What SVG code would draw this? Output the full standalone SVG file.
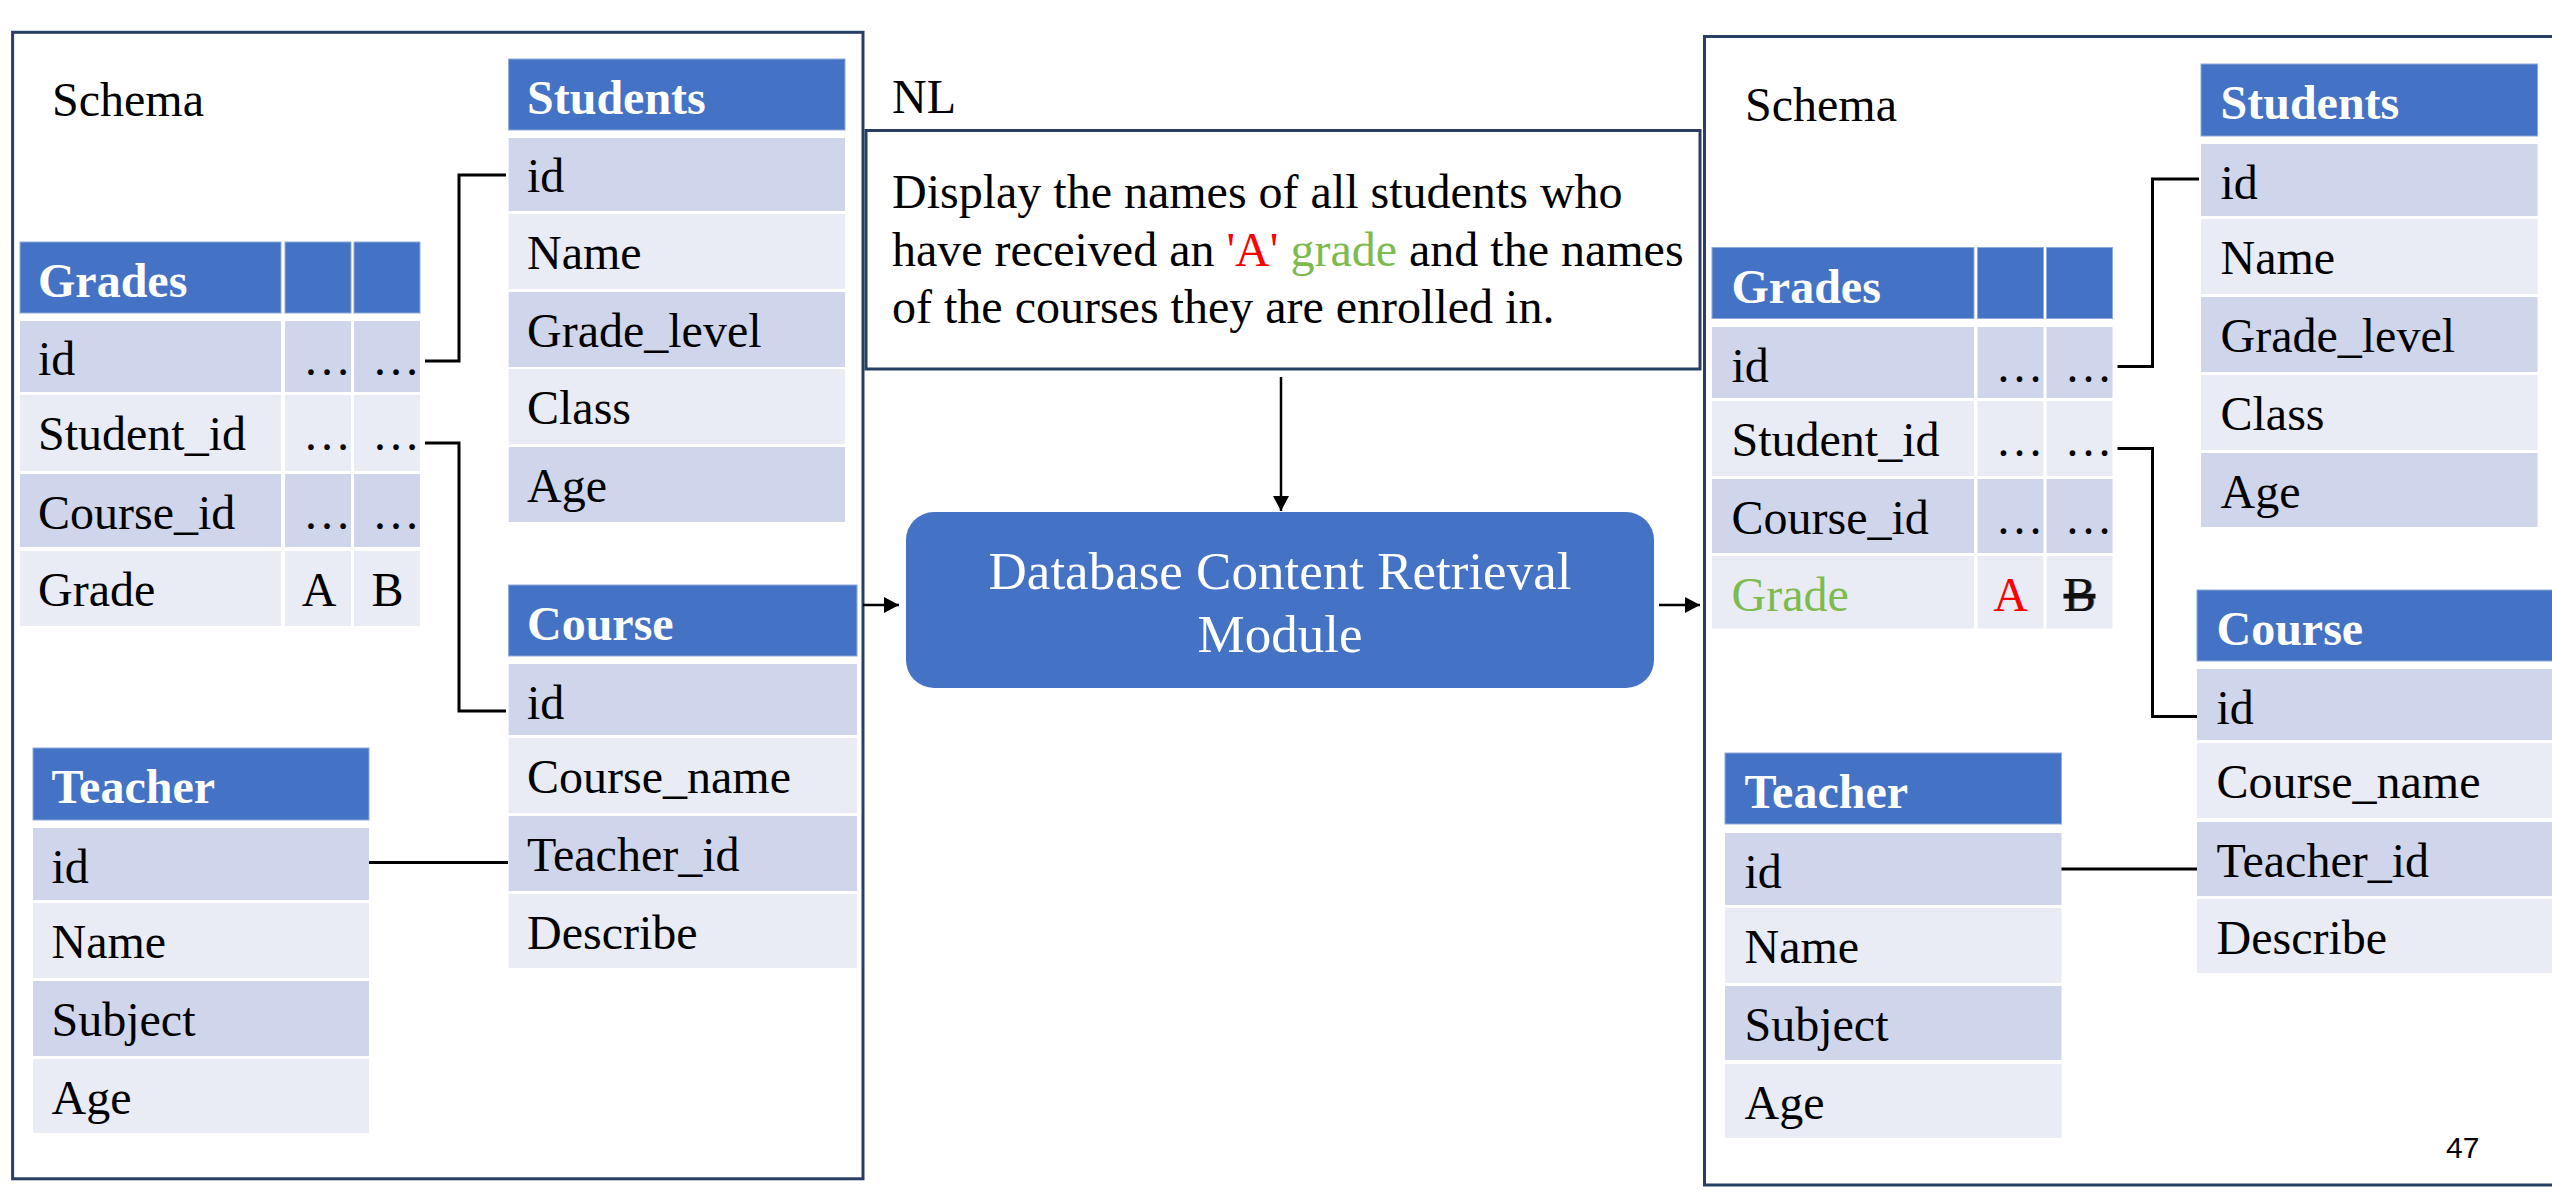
<svg xmlns="http://www.w3.org/2000/svg" width="2552" height="1194" viewBox="0 0 2552 1194">
<style>
.t{font-family:"Liberation Serif","Times New Roman",serif;font-size:48px;fill:#000}
.h{font-weight:bold;fill:#fff}
.hd{fill:#4472C4;stroke:#8FAADC;stroke-width:1}
.d{fill:#CFD5EA}
.l{fill:#E9EBF5}
.box{fill:none;stroke:#283E63;stroke-width:3}
.conn{fill:none;stroke:#000;stroke-width:3}
.arr{fill:none;stroke:#000;stroke-width:2.5}
.mid{text-anchor:middle}
.end{text-anchor:end}
</style>
<defs>
<marker id="ah" markerWidth="16" markerHeight="16" refX="15" refY="8" orient="auto" markerUnits="userSpaceOnUse">
<path d="M0,0 L15,8 L0,16 Z" fill="#000"/>
</marker>
</defs>
<rect width="2552" height="1194" fill="#fff"/>

<g id="schema-left">
<rect class="box" x="12.6" y="32.3" width="850.4" height="1146.5"/>
<text class="t" x="52" y="116">Schema</text>
</g>

<g id="students-left">
<rect class="hd" x="508.6" y="59" width="336.4" height="71"/>
<text class="t h" x="527" y="114">Students</text>
<rect class="d" x="508.6" y="138" width="336.4" height="73"/>
<text class="t" x="527" y="192">id</text>
<rect class="l" x="508.6" y="214" width="336.4" height="75"/>
<text class="t" x="527" y="268.5">Name</text>
<rect class="d" x="508.6" y="292" width="336.4" height="75"/>
<text class="t" x="527" y="346.5">Grade_level</text>
<rect class="l" x="508.6" y="369" width="336.4" height="75"/>
<text class="t" x="527" y="423.5">Class</text>
<rect class="d" x="508.6" y="447" width="336.4" height="75"/>
<text class="t" x="527" y="501.5">Age</text>
</g>

<g id="grades-left">
<rect class="hd" x="20" y="242" width="261" height="71"/>
<rect class="hd" x="285" y="242" width="66" height="71"/>
<rect class="hd" x="354" y="242" width="66" height="71"/>
<text class="t h" x="38" y="297">Grades</text>
<rect class="d" x="20" y="321" width="261" height="71"/>
<rect class="d" x="285" y="321" width="66" height="71"/>
<rect class="d" x="354" y="321" width="66" height="71"/>
<text class="t" x="38" y="375">id</text>
<text class="t end" x="351" y="375">…</text>
<text class="t end" x="420" y="375">…</text>
<rect class="l" x="20" y="395" width="261" height="76"/>
<rect class="l" x="285" y="395" width="66" height="76"/>
<rect class="l" x="354" y="395" width="66" height="76"/>
<text class="t" x="38" y="449.5">Student_id</text>
<text class="t end" x="351" y="449.5">…</text>
<text class="t end" x="420" y="449.5">…</text>
<rect class="d" x="20" y="474" width="261" height="73"/>
<rect class="d" x="285" y="474" width="66" height="73"/>
<rect class="d" x="354" y="474" width="66" height="73"/>
<text class="t" x="38" y="528.5">Course_id</text>
<text class="t end" x="351" y="528.5">…</text>
<text class="t end" x="420" y="528.5">…</text>
<rect class="l" x="20" y="551" width="261" height="75"/>
<rect class="l" x="285" y="551" width="66" height="75"/>
<rect class="l" x="354" y="551" width="66" height="75"/>
<text class="t" x="38" y="605.5">Grade</text>
<text class="t mid" x="319" y="605.5">A</text>
<text class="t mid" x="387.5" y="605.5">B</text>
</g>

<g id="course-left">
<rect class="hd" x="508.6" y="585" width="348.4" height="71"/>
<text class="t h" x="527" y="640">Course</text>
<rect class="d" x="508.6" y="664" width="348.4" height="71"/>
<text class="t" x="527" y="718.5">id</text>
<rect class="l" x="508.6" y="738" width="348.4" height="75"/>
<text class="t" x="527" y="792.5">Course_name</text>
<rect class="d" x="508.6" y="816" width="348.4" height="75"/>
<text class="t" x="527" y="870.5">Teacher_id</text>
<rect class="l" x="508.6" y="894" width="348.4" height="74"/>
<text class="t" x="527" y="948.5">Describe</text>
</g>

<g id="teacher-left">
<rect class="hd" x="33" y="748" width="336" height="72"/>
<text class="t h" x="51.5" y="803">Teacher</text>
<rect class="d" x="33" y="828" width="336" height="72"/>
<text class="t" x="51.5" y="882.5">id</text>
<rect class="l" x="33" y="903" width="336" height="75"/>
<text class="t" x="51.5" y="957.5">Name</text>
<rect class="d" x="33" y="981" width="336" height="75"/>
<text class="t" x="51.5" y="1035.5">Subject</text>
<rect class="l" x="33" y="1059" width="336" height="74"/>
<text class="t" x="51.5" y="1113.5">Age</text>
</g>

<g id="nl">
<text class="t" x="892" y="113">NL</text>
<rect class="box" x="866" y="130.5" width="834" height="238.5"/>
<text class="t" x="892" y="208">Display the names of all students who</text>
<text class="t" x="892" y="266">have received an <tspan fill="#FF0000">'A'</tspan> <tspan fill="#7DBB4E">grade</tspan> and the names</text>
<text class="t" x="892" y="323">of the courses they are enrolled in.</text>
</g>

<g id="module">
<rect x="906" y="512" width="748" height="176" rx="28" ry="28" fill="#4472C4"/>
<text class="t mid" x="1280" y="589" style="font-size:53px;fill:#fff">Database Content Retrieval</text>
<text class="t mid" x="1280" y="652" style="font-size:53px;fill:#fff">Module</text>
</g>

<g id="schema-right">
<rect class="box" x="1704.5" y="36.5" width="860" height="1148.5"/>
<text class="t" x="1745" y="121">Schema</text>
</g>

<g id="students-right">
<rect class="hd" x="2201" y="64" width="336.6" height="72"/>
<text class="t h" x="2220.5" y="119">Students</text>
<rect class="d" x="2201" y="144" width="336.6" height="72"/>
<text class="t" x="2220.5" y="198.5">id</text>
<rect class="l" x="2201" y="219" width="336.6" height="75"/>
<text class="t" x="2220.5" y="273.5">Name</text>
<rect class="d" x="2201" y="297" width="336.6" height="75"/>
<text class="t" x="2220.5" y="351.5">Grade_level</text>
<rect class="l" x="2201" y="375" width="336.6" height="75"/>
<text class="t" x="2220.5" y="429.5">Class</text>
<rect class="d" x="2201" y="453" width="336.6" height="74"/>
<text class="t" x="2220.5" y="507.5">Age</text>
</g>

<g id="grades-right">
<rect class="hd" x="1712" y="247.5" width="262" height="71"/>
<rect class="hd" x="1977.5" y="247.5" width="66" height="71"/>
<rect class="hd" x="2046.5" y="247.5" width="66" height="71"/>
<text class="t h" x="1731.5" y="302.5">Grades</text>
<rect class="d" x="1712" y="327" width="262" height="71"/>
<rect class="d" x="1977.5" y="327" width="66" height="71"/>
<rect class="d" x="2046.5" y="327" width="66" height="71"/>
<text class="t" x="1731.5" y="381.5">id</text>
<text class="t end" x="2043.5" y="381.5">…</text>
<text class="t end" x="2112.5" y="381.5">…</text>
<rect class="l" x="1712" y="401" width="262" height="75"/>
<rect class="l" x="1977.5" y="401" width="66" height="75"/>
<rect class="l" x="2046.5" y="401" width="66" height="75"/>
<text class="t" x="1731.5" y="455.5">Student_id</text>
<text class="t end" x="2043.5" y="455.5">…</text>
<text class="t end" x="2112.5" y="455.5">…</text>
<rect class="d" x="1712" y="479" width="262" height="74"/>
<rect class="d" x="1977.5" y="479" width="66" height="74"/>
<rect class="d" x="2046.5" y="479" width="66" height="74"/>
<text class="t" x="1731.5" y="533.5">Course_id</text>
<text class="t end" x="2043.5" y="533.5">…</text>
<text class="t end" x="2112.5" y="533.5">…</text>
<rect class="l" x="1712" y="556" width="262" height="72.5"/>
<rect class="l" x="1977.5" y="556" width="66" height="72.5"/>
<rect class="l" x="2046.5" y="556" width="66" height="72.5"/>
<text class="t" x="1731.5" y="610.5" style="fill:#7DBB4E">Grade</text>
<text class="t mid" x="2010.5" y="610.5" style="fill:#FF0000">A</text>
<text class="t mid" x="2080.5" y="610.5" style="fill:#777">B</text>
<text class="t mid" x="2079.5" y="610.5" style="fill:#111;text-decoration:line-through">B</text>
</g>

<g id="course-right">
<rect class="hd" x="2197" y="590" width="370" height="71"/>
<text class="t h" x="2216.5" y="645">Course</text>
<rect class="d" x="2197" y="669" width="370" height="71"/>
<text class="t" x="2216.5" y="723.5">id</text>
<rect class="l" x="2197" y="743" width="370" height="75"/>
<text class="t" x="2216.5" y="797.5">Course_name</text>
<rect class="d" x="2197" y="822" width="370" height="74"/>
<text class="t" x="2216.5" y="876.5">Teacher_id</text>
<rect class="l" x="2197" y="899" width="370" height="74"/>
<text class="t" x="2216.5" y="953.5">Describe</text>
</g>

<g id="teacher-right">
<rect class="hd" x="1725" y="753" width="336.5" height="71"/>
<text class="t h" x="1744.5" y="808">Teacher</text>
<rect class="d" x="1725" y="833" width="336.5" height="72"/>
<text class="t" x="1744.5" y="887.5">id</text>
<rect class="l" x="1725" y="908" width="336.5" height="75"/>
<text class="t" x="1744.5" y="962.5">Name</text>
<rect class="d" x="1725" y="986" width="336.5" height="74"/>
<text class="t" x="1744.5" y="1040.5">Subject</text>
<rect class="l" x="1725" y="1064" width="336.5" height="74"/>
<text class="t" x="1744.5" y="1118.5">Age</text>
</g>

<g id="page-number">
<text x="2446" y="1158" style="font-family:'Liberation Sans',Arial,sans-serif;font-size:30px;fill:#000">47</text>
</g>

<g id="connectors">
<path class="conn" d="M425,361 H459 V175 H506"/>
<path class="conn" d="M425,443 H459 V711 H506"/>
<path class="conn" d="M369,862.5 H508"/>
<path class="conn" d="M2117.5,366.5 H2152.5 V179 H2199"/>
<path class="conn" d="M2117.5,448.5 H2152.5 V716.5 H2197"/>
<path class="conn" d="M2061.5,869 H2197"/>
<path class="arr" d="M863,605 H899" marker-end="url(#ah)"/>
<path class="arr" d="M1281,377 V511" marker-end="url(#ah)"/>
<path class="arr" d="M1659,605 H1700" marker-end="url(#ah)"/>
</g>
</svg>
